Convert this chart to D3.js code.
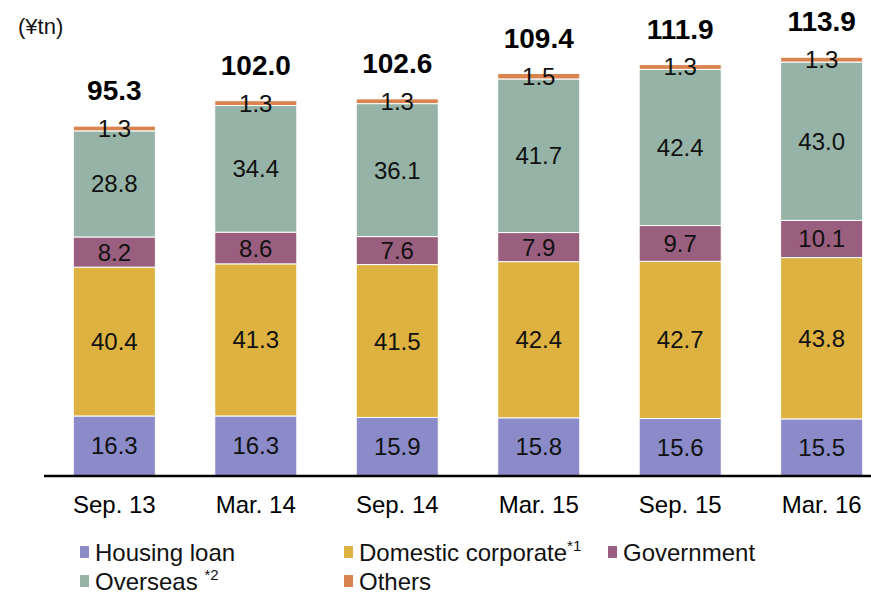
<!DOCTYPE html>
<html><head><meta charset="utf-8">
<script src="https://cdn.jsdelivr.net/npm/d3@7"></script>
<style>body{margin:0;background:#fff}svg{display:block}text{font-family:"Liberation Sans",Arial,sans-serif}</style>
</head><body>
<svg id="c" width="871" height="592"></svg>
<script>
const categories = ["Sep. 13","Mar. 14","Sep. 14","Mar. 15","Sep. 15","Mar. 16"];
const housingLoan = [16.3,16.3,15.9,15.8,15.6,15.5];
const domesticCorporate = [40.4,41.3,41.5,42.4,42.7,43.8];
const government = [8.2,8.6,7.6,7.9,9.7,10.1];
const overseas = [28.8,34.4,36.1,41.7,42.4,43.0];
const others = [1.3,1.3,1.3,1.5,1.3,1.3];
const totals = [95.3,102.0,102.6,109.4,111.9,113.9];
const seriesNames = ["Housing loan","Domestic corporate","Government","Overseas","Others"];
const colors = ["#8A8BC8","#DDB240","#9A5F7E","#95B3A6","#D9844F"];

const svg = d3.select("#c");
const series = [housingLoan, domesticCorporate, government, overseas, others];
const baseY = 476;
const x = d3.scaleBand().domain(categories).range([45, 891]).paddingInner(0.42).paddingOuter(0.2);
const y = d3.scaleLinear().domain([0, 95.3]).range([baseY, 125]);

const rows = categories.map((c, i) => {
  const r = {cat: c};
  seriesNames.forEach((s, k) => r[s] = series[k][i]);
  return r;
});
const stacked = d3.stack().keys(seriesNames)(rows);

const g = svg.append("g");
stacked.forEach((layer, k) => {
  g.selectAll(null).data(layer).enter().append("rect")
    .attr("x", d => x(d.data.cat))
    .attr("width", x.bandwidth())
    .attr("y", d => y(d[1]))
    .attr("height", d => y(d[0]) - y(d[1]))
    .attr("fill", colors[k])
    .attr("stroke", "#fff").attr("stroke-width", 1);
});
stacked.forEach((layer, k) => {
  g.selectAll(null).data(layer).enter().append("text")
    .attr("x", d => x(d.data.cat) + x.bandwidth()/2)
    .attr("y", d => (y(d[0]) + y(d[1]))/2 + 8.5)
    .attr("text-anchor", "middle")
    .attr("font-size", 24).attr("fill", "#111")
    .text(d => d.data[layer.key].toFixed(1));
});

svg.selectAll(null).data(totals).enter().append("text")
  .attr("x", (d,i) => x(categories[i]) + x.bandwidth()/2)
  .attr("y", d => y(d) - 25)
  .attr("text-anchor", "middle")
  .attr("font-size", 28).attr("font-weight", "bold").attr("fill", "#000")
  .text(d => d.toFixed(1));

// axis
const ax = svg.append("g").attr("transform", `translate(0,${baseY})`)
  .call(d3.axisBottom(x).tickSize(0).tickPadding(20));
ax.select(".domain").attr("d", "M44,0H871").attr("stroke", "#000").attr("stroke-width", 2.5);
ax.selectAll("text").attr("font-size", 24).attr("fill", "#000")
  .attr("font-family", "Liberation Sans, Arial, sans-serif");

svg.append("text").attr("x", 18).attr("y", 34).attr("font-size", 22).attr("fill", "#111").text("(¥tn)");

// legend
const legendPos = [[80,561],[344,561],[608,561],[80,590],[344,590]];
const sups = ["","*1","","*2",""];
seriesNames.forEach((s, k) => {
  const [lx, ly] = legendPos[k];
  svg.append("rect").attr("x", lx).attr("y", ly - 15).attr("width", 9).attr("height", 12).attr("fill", colors[k]);
  const t = svg.append("text").attr("x", lx + 15).attr("y", ly).attr("font-size", 24).attr("fill", "#111").text(s + (k===3 ? " " : ""));
  if (sups[k]) t.append("tspan").attr("font-size", 15).attr("dy", -10).text(sups[k]);
});
</script>
</body></html>
